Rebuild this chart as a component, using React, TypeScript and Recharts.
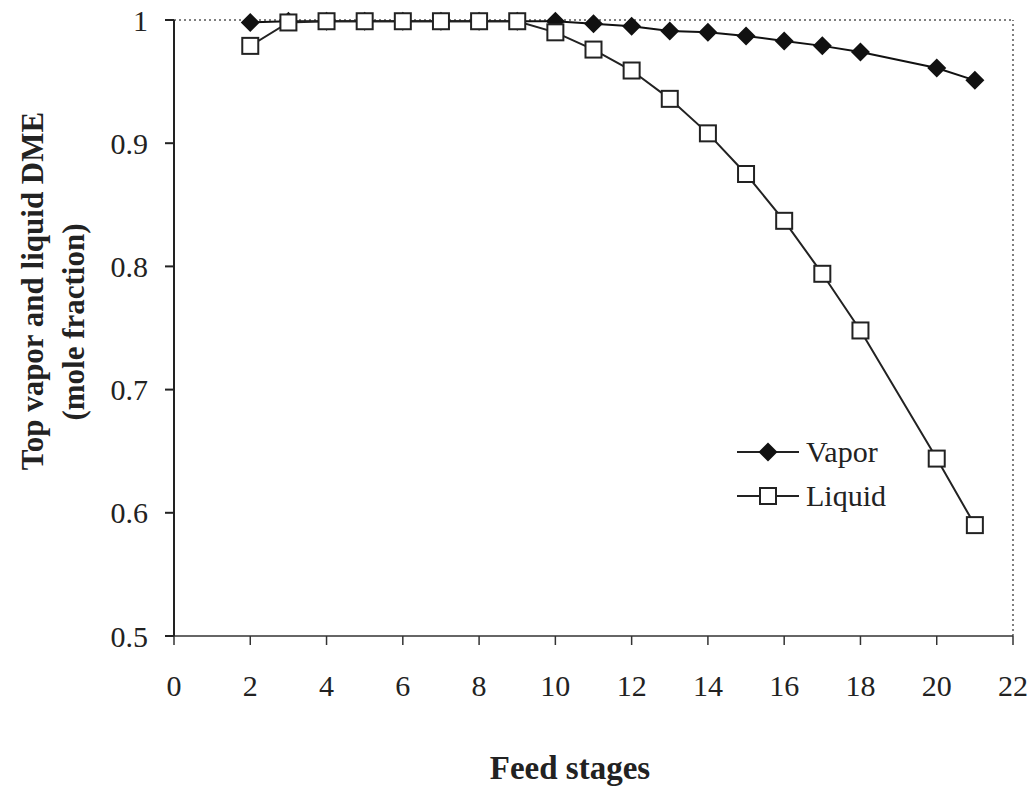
import { Line, LineChart, ReferenceLine, XAxis, YAxis } from 'recharts';

const stages = [2, 3, 4, 5, 6, 7, 8, 9, 10, 11, 12, 13, 14, 15, 16, 17, 18, 20, 21];
const vapor = [
  0.998, 0.999, 0.999, 0.999, 0.999, 0.999, 0.999, 0.999, 0.999, 0.997, 0.995, 0.991, 0.99, 0.987,
  0.983, 0.979, 0.974, 0.961, 0.951,
];
const liquid = [
  0.979, 0.998, 0.999, 0.999, 0.999, 0.999, 0.999, 0.999, 0.99, 0.976, 0.959, 0.936, 0.908, 0.875,
  0.837, 0.794, 0.748, 0.644, 0.59,
];
const xTicks = [0, 2, 4, 6, 8, 10, 12, 14, 16, 18, 20, 22];
const yTicks = [0.5, 0.6, 0.7, 0.8, 0.9, 1];

const data = stages.map((s, i) => ({ stage: s, vapor: vapor[i], liquid: liquid[i] }));

const FONT = '"Liberation Serif", "Times New Roman", serif';

function Diamond({ cx, cy }: any) {
  if (cx == null || cy == null) return null;
  const r = 9.5;
  return <path d={`M${cx},${cy - r}L${cx + r},${cy}L${cx},${cy + r}L${cx - r},${cy}Z`} fill="#111" />;
}

function Square({ cx, cy }: any) {
  if (cx == null || cy == null) return null;
  const h = 8;
  return <rect x={cx - h} y={cy - h} width={h * 2} height={h * 2} fill="#fff" stroke="#222" strokeWidth={2} />;
}

// legend drawn as an overlay so it doesn't eat into the plot margins
function LegendBox() {
  const rows = [
    { name: 'Vapor', Mark: Diamond },
    { name: 'Liquid', Mark: Square },
  ];
  return (
    <div style={{ position: 'absolute', left: 735, top: 430, fontFamily: FONT, fontSize: 30, color: '#222' }}>
      {rows.map(({ name, Mark }) => (
        <div key={name} style={{ display: 'flex', alignItems: 'center', height: 44 }}>
          <svg width={66} height={24}>
            <line x1={2} y1={12} x2={64} y2={12} stroke="#222" strokeWidth={2} />
            <Mark cx={33} cy={12} />
          </svg>
          <span style={{ marginLeft: 5, lineHeight: '44px' }}>{name}</span>
        </div>
      ))}
    </div>
  );
}

export default function App() {
  return (
    <div style={{ position: 'absolute', left: 0, top: 0, width: 1035, height: 789, background: '#fff' }}>
      <LineChart
        width={1035}
        height={789}
        data={data}
        margin={{ top: 20, right: 22, left: 94, bottom: 93 }}
      >
        <XAxis
          dataKey="stage"
          type="number"
          domain={[0, 22]}
          ticks={xTicks}
          allowDecimals={false}
          height={60}
          tickSize={9}
          tickMargin={30}
          stroke="#333"
          strokeWidth={1.5}
          tick={{ fill: '#222', fontSize: 30, fontFamily: FONT }}
        />
        <YAxis
          type="number"
          domain={[0.5, 1]}
          ticks={yTicks}
          width={80}
          tickSize={9}
          tickMargin={17}
          stroke="#222"
          strokeWidth={2}
          tick={{ fill: '#222', fontSize: 30, fontFamily: FONT }}
          label={{
            content: () => (
              <g fontFamily={FONT} fontWeight="bold" fontSize={31} fill="#222">
                <text x={32} y={291} textAnchor="middle" dominantBaseline="central" transform="rotate(-90, 32, 291)">
                  Top vapor and liquid DME
                </text>
                <text x={73} y={322} textAnchor="middle" dominantBaseline="central" transform="rotate(-90, 73, 322)">
                  (mole fraction)
                </text>
                <text x={570} y={768} textAnchor="middle" dominantBaseline="central" fontSize={33}>
                  Feed stages
                </text>
              </g>
            ),
          }}
        />
        <ReferenceLine y={1} stroke="#555" strokeWidth={1.5} strokeDasharray="2 3" />
        <ReferenceLine x={22} stroke="#555" strokeWidth={1.5} strokeDasharray="2 3" />
        <Line
          dataKey="vapor"
          name="Vapor"
          stroke="#111"
          strokeWidth={2}
          dot={<Diamond />}
          activeDot={false}
          isAnimationActive={false}
        />
        <Line
          dataKey="liquid"
          name="Liquid"
          stroke="#222"
          strokeWidth={2}
          dot={<Square />}
          activeDot={false}
          isAnimationActive={false}
        />
      </LineChart>
      <LegendBox />
    </div>
  );
}
